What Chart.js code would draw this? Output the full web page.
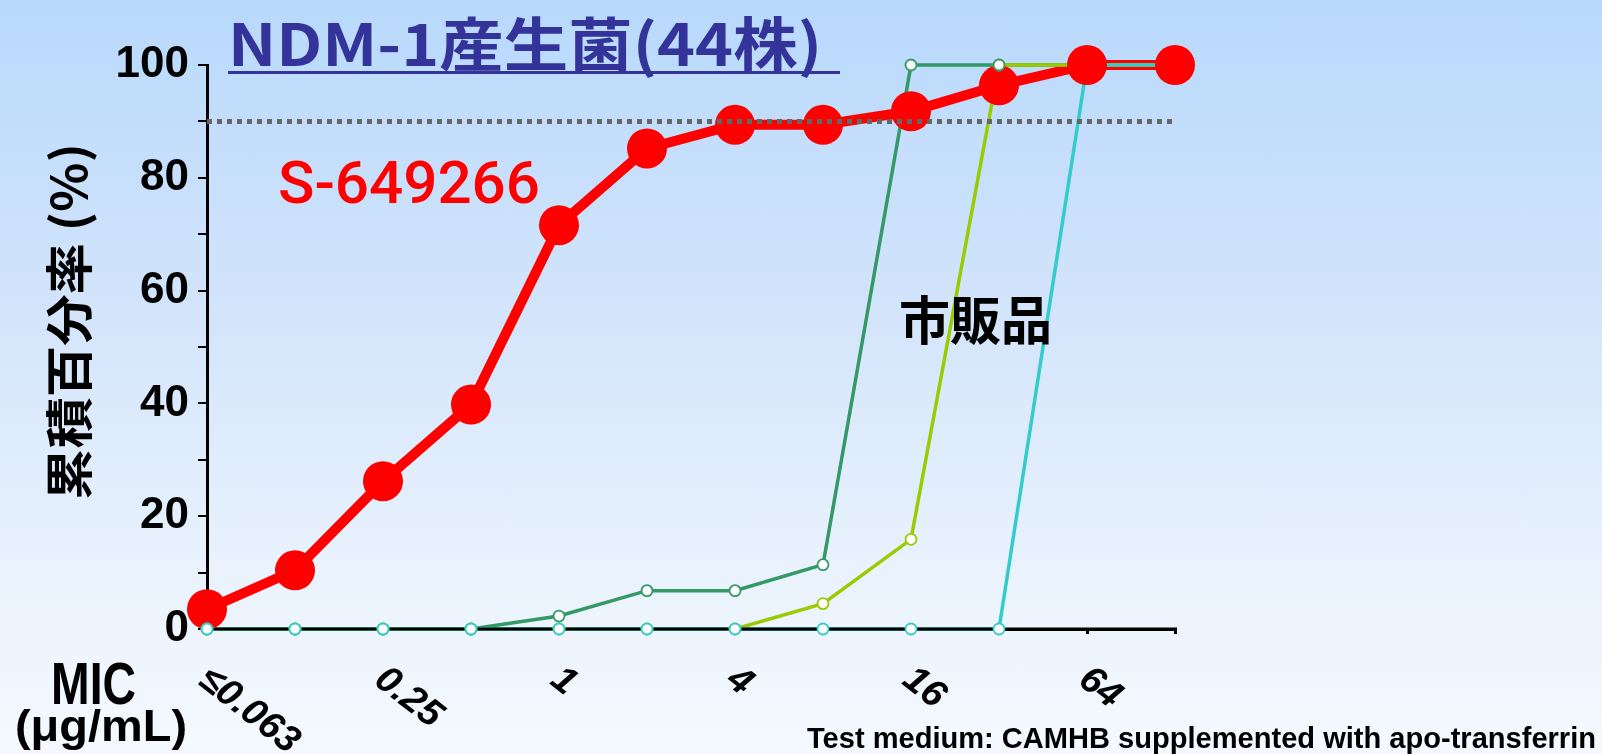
<!DOCTYPE html>
<html>
<head>
<meta charset="utf-8">
<script src="https://cdn.jsdelivr.net/npm/chart.js@4.4.0/dist/chart.umd.min.js"></script>
<style>
    html, body {
        margin: 0;
        padding: 0;
        width: 1602px;
        height: 754px;
        overflow: hidden;
        background: linear-gradient(to bottom, #b8d9fc 0%, #d2e4fb 40%, #e9f2fd 75%, #f5f9ff 100%);
    }
    #wrap { position: relative; width: 1602px; height: 754px; }
</style>
</head>
<body>
<div id="wrap"><canvas id="micChart"></canvas></div>
<script>
// MIC categories (ug/mL)
const micLabels = ['≤0.063', '0.125', '0.25', '0.5', '1', '2', '4', '8', '16', '32', '64', '128'];

// cumulative % of 44 strains
const s649266 = [3.5, 10.4, 26.2, 39.8, 71.6, 85.2, 89.4, 89.4, 91.8, 96.4, 100, 100];
const darkGreen = [0, 0, 0, 0, 2.3, 6.8, 6.8, 11.4, 100, 100, 100, 100];
const lightGreen = [0, 0, 0, 0, 0, 0, 0, 4.5, 15.9, 100, 100, 100];
const cyan = [0, 0, 0, 0, 0, 0, 0, 0, 0, 0, 100, 100];

const yTickLabels = [0, 20, 40, 60, 80, 100];
const shownX = [0, 2, 4, 6, 8, 10];   // which categories get a label
const cutoff = 90;

const RED = '#ff0000';
const DKGREEN = '#339966';
const LTGREEN = '#99cc00';
const CYAN = '#33cccc';

// split every series into a line part and a marker part so that
// all lines are drawn first and markers above them
function lineSet(data, color, width, order) {
    return { data: data, borderColor: color, borderWidth: width, pointRadius: 0,
             fill: false, tension: 0, order: order, clip: false };
}
function markerSet(data, color, radius, fillColor, bw, order) {
    return { data: data, showLine: false, pointRadius: radius, pointHoverRadius: radius,
             pointBackgroundColor: fillColor, pointBorderColor: color, pointBorderWidth: bw,
             borderColor: color, order: order, clip: false };
}

// small markers are hidden under the big red ones at 64 and 128
const smallRadius = c => c.dataIndex >= 10 ? 0 : 5.5;

const cyanLine = lineSet(cyan, CYAN, 3.5, 6);
cyanLine.axisAfter = true;

const datasets = [
    lineSet(s649266, RED, 10, 9),
    lineSet(darkGreen, DKGREEN, 3.5, 8),
    lineSet(lightGreen, LTGREEN, 3.5, 7),
    cyanLine,
    markerSet(s649266, RED, 20, RED, 0, 5),
    markerSet(lightGreen, LTGREEN, smallRadius, '#ffffff', 1.8, 4),
    markerSet(darkGreen, DKGREEN, smallRadius, '#ffffff', 1.8, 3),
    markerSet(cyan, CYAN, smallRadius, '#ffffff', 1.8, 2),
    { data: micLabels.map(() => cutoff), borderColor: '#666666', borderWidth: 5,
      borderDash: [5, 5], pointRadius: 0, fill: false, order: 1, clip: false }
];

function fitText(ctx, text, x, y, w, font, color, baseline) {
    ctx.save();
    ctx.font = font;
    ctx.fillStyle = color;
    ctx.textAlign = 'left';
    ctx.textBaseline = baseline || 'alphabetic';
    const m = ctx.measureText(text).width;
    ctx.translate(x, y);
    ctx.scale(w / m, 1);
    ctx.fillText(text, 0, 0);
    ctx.restore();
}

const axisOverLines = {
    id: 'axisOverLines',
    afterDatasetDraw(chart, args) {
        if (!chart.data.datasets[args.index].axisAfter) return;
        const ctx = chart.ctx;
        const y0 = chart.scales.y.getPixelForValue(0);
        ctx.save();
        ctx.strokeStyle = '#000';
        ctx.lineWidth = 3;
        ctx.beginPath();
        ctx.moveTo(chart.chartArea.left, y0);
        ctx.lineTo(chart.chartArea.right + 2, y0);
        ctx.stroke();
        ctx.restore();
    }
};

const texts = {
    id: 'texts',
    afterDraw(chart) {
        const ctx = chart.ctx;
        const xs = chart.scales.x;

        // title
        fitText(ctx, 'NDM-1産生菌(44株)', 228, 44, 594, 'bold 58px "Noto Sans CJK JP"', '#333399', 'middle');
        ctx.save();
        ctx.fillStyle = '#333399';
        ctx.fillRect(228, 71, 612, 3);
        ctx.restore();

        fitText(ctx, 'S-649266', 278, 188, 262, '500 60px Roboto', RED, 'middle');
        fitText(ctx, '市販品', 899, 320, 153, 'bold 52px "Noto Sans CJK JP"', '#000', 'middle');

        // y axis title
        ctx.save();
        ctx.translate(69, 500);
        ctx.rotate(-Math.PI / 2);
        fitText(ctx, '累積百分率 (%)', 0, 0, 357, 'bold 48px "Noto Sans CJK JP"', '#000', 'middle');
        ctx.restore();

        // x axis labels
        ctx.save();
        ctx.font = 'italic bold 38px "Liberation Sans"';
        ctx.fillStyle = '#000';
        ctx.textBaseline = 'top';
        ctx.textAlign = 'left';
        shownX.forEach(i => {
            const px = xs.getPixelForTick(i);
            ctx.save();
            ctx.translate(px + 8, 660);
            ctx.rotate(38 * Math.PI / 180);
            ctx.fillText(micLabels[i], 0, 0);
            ctx.restore();
        });
        ctx.restore();

        fitText(ctx, 'MIC', 51, 704, 85, 'bold 60px "Liberation Sans"', '#000');
        fitText(ctx, '(μg/mL)', 15, 741, 172, 'bold 44px "Liberation Sans"', '#000');
        fitText(ctx, 'Test medium: CAMHB supplemented with apo-transferrin', 807, 748, 789,
                'bold 30px "Liberation Sans"', '#000');
    }
};

const ctx = document.getElementById('micChart').getContext('2d');
const micChart = new Chart(ctx, {
    type: 'line',
    data: { labels: micLabels, datasets: datasets },
    options: {
        responsive: true,
        maintainAspectRatio: false,
        animation: false,
        layout: { padding: { top: 65, right: 427, bottom: 0, left: 0 } },
        plugins: { legend: { display: false }, tooltip: { enabled: false } },
        scales: {
            x: {
                offset: false,
                afterFit: s => { s.height = 125; },
                ticks: { callback: () => '', autoSkip: false, maxRotation: 0 },
                grid: { drawOnChartArea: false, tickLength: 5, color: '#000', lineWidth: 3, offset: false },
                border: { color: '#000', width: 3 }
            },
            y: {
                min: 0,
                max: 100,
                afterFit: s => { s.width = 207; },
                ticks: {
                    stepSize: 10,
                    autoSkip: false,
                    padding: 9,
                    color: '#000',
                    font: { family: 'Liberation Sans', size: 44, weight: 'bold' },
                    callback: v => yTickLabels.includes(v) ? v : ''
                },
                grid: { drawOnChartArea: false, tickLength: 9, color: '#000', lineWidth: 2 },
                border: { color: '#000', width: 3 }
            }
        }
    },
    plugins: [axisOverLines, texts]
});
</script>
</body>
</html>
